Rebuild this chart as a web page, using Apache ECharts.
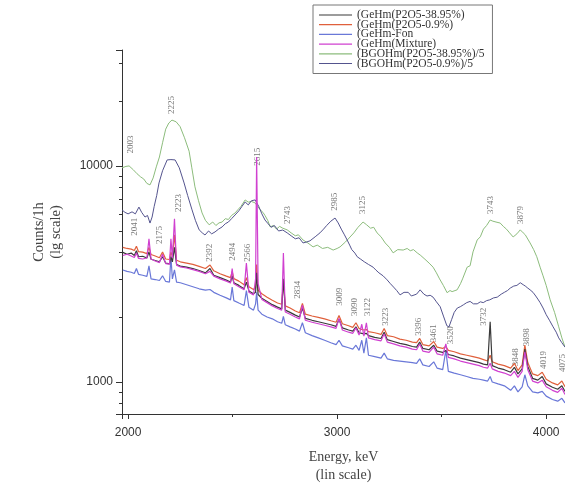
<!DOCTYPE html>
<html>
<head>
<meta charset="utf-8">
<script src="https://cdn.jsdelivr.net/npm/echarts@6/dist/echarts.min.js"></script>
<style>
  html, body { margin: 0; padding: 0; background: #fff; }
  #chart { width: 565px; height: 495px; }
</style>
</head>
<body>
<div id="chart"></div>
<script>
// energy grid shared by the Ge spectra (keV)
const geEnergy = [
  1975, 1995, 2015, 2030, 2040, 2050, 2070, 2090, 2100, 2110,
  2130, 2150, 2165, 2180, 2198, 2205, 2212, 2222, 2232, 2250,
  2280, 2310, 2340, 2370, 2392, 2410, 2440, 2470, 2490, 2498,
  2506, 2530, 2555, 2566, 2578, 2600, 2610, 2615, 2622, 2640,
  2665, 2690, 2715, 2735, 2743, 2752, 2775, 2800, 2820, 2834,
  2848, 2880, 2910, 2940, 2970, 2995, 3009, 3025, 3055, 3075,
  3090, 3105, 3118, 3128, 3140, 3150, 3180, 3210, 3225, 3240,
  3270, 3300, 3330, 3360, 3380, 3395, 3410, 3440, 3462, 3478,
  3505, 3520, 3532, 3560, 3590, 3620, 3650, 3680, 3700, 3720,
  3732, 3742, 3770, 3800, 3830, 3848, 3865, 3885, 3898, 3912,
  3935, 3960, 3981, 4000, 4030, 4055, 4075, 4090
];
const geHm38 = [
  3980, 3900, 3950, 3850, 4050, 3800, 3820, 3750, 4000, 3700,
  3650, 3600, 3800, 3550, 3520, 3800, 3600, 4200, 3500, 3440,
  3400, 3350, 3280, 3200, 3350, 3120, 3040, 2960, 2900, 3100,
  2880, 2800, 2700, 2900, 2640, 2560, 2600, 3200, 2540, 2440,
  2360, 2280, 2220, 2180, 3000, 2150, 2100, 2040, 2000, 2200,
  1970, 1930, 1900, 1870, 1840, 1810, 1950, 1780, 1740, 1720,
  1800, 1690, 1680, 1670, 1680, 1640, 1610, 1590, 1700, 1570,
  1540, 1510, 1490, 1460, 1450, 1530, 1430, 1410, 1480, 1390,
  1370, 1400, 1340, 1320, 1290, 1270, 1250, 1230, 1210, 1200,
  1900, 1190, 1160, 1140, 1110, 1170, 1090, 1150, 1420, 1180,
  1040, 1020, 1060, 980, 945, 925, 960, 905
];
const geHm09 = [
  4200, 4150, 4120, 4060, 4250, 4010, 3990, 3930, 4200, 3890,
  3830, 3760, 4000, 3710, 3690, 4000, 3800, 4800, 3660, 3600,
  3550, 3500, 3430, 3350, 3480, 3270, 3170, 3090, 3040, 3250,
  3010, 2930, 2820, 3040, 2760, 2680, 2730, 3500, 2660, 2560,
  2470, 2390, 2320, 2290, 2980, 2250, 2200, 2130, 2090, 2310,
  2060, 2020, 1990, 1960, 1920, 1890, 2030, 1860, 1820, 1790,
  1880, 1770, 1750, 1740, 1750, 1710, 1690, 1660, 1770, 1640,
  1620, 1580, 1560, 1530, 1520, 1590, 1490, 1470, 1540, 1450,
  1430, 1460, 1400, 1380, 1350, 1330, 1310, 1290, 1270, 1250,
  1330, 1240, 1210, 1190, 1160, 1220, 1130, 1200, 1480, 1230,
  1090, 1070, 1110, 1030, 990, 970, 1010, 950
];
const geFon = [
  3300, 3250, 3220, 3180, 3350, 3150, 3120, 3080, 3450, 3000,
  2980, 2950, 3100, 2920, 2900, 3800, 3000, 3300, 2900, 2880,
  2820, 2760, 2700, 2660, 2680, 2600, 2520, 2450, 2400, 2750,
  2380, 2320, 2260, 2650, 2220, 2150, 2300, 2600, 2150, 2060,
  2000, 1960, 1900, 1870, 2010, 1840, 1800, 1760, 1720, 1880,
  1690, 1640, 1600, 1560, 1520, 1490, 1560, 1470, 1440, 1420,
  1480, 1400, 1560, 1360, 1600, 1330, 1310, 1290, 1360, 1280,
  1260, 1250, 1240, 1230, 1220, 1280, 1200, 1180, 1240, 1160,
  1140, 1400, 1120, 1100, 1080, 1060, 1040, 1030, 1020, 1010,
  1060, 1000, 980, 960, 915, 960, 900, 950, 1080, 960,
  900, 890, 905, 860, 830, 815, 840, 800
];
const geMix = [
  3850, 3900, 3830, 3770, 3950, 3730, 3710, 3750, 4600, 3710,
  3630, 3570, 3900, 3530, 3510, 4600, 3750, 5700, 3470, 3410,
  3370, 3310, 3250, 3170, 3250, 3090, 3000, 2930, 2870, 3350,
  2850, 2760, 2670, 3550, 2600, 2530, 3000, 11000, 2850, 2410,
  2330, 2250, 2190, 2150, 3950, 2110, 2060, 2000, 1960, 2270,
  1930, 1890, 1860, 1830, 1800, 1770, 1970, 1740, 1700, 1680,
  1780, 1650, 1850, 1630, 1880, 1600, 1570, 1550, 1670, 1530,
  1500, 1470, 1450, 1420, 1410, 1500, 1390, 1370, 1450, 1350,
  1330, 1500, 1300, 1280, 1250, 1230, 1210, 1190, 1170, 1160,
  1220, 1150, 1120, 1100, 1070, 1120, 1050, 1120, 1380, 1140,
  1010, 990, 1020, 950, 915, 895, 935, 875
];
// BGO spectra divided by 5: [keV, counts]
const bgo38 = [
  [1971, 9800], [1990, 9950], [2005, 10000], [2025, 9600], [2043, 9200], [2060, 8900], [2075, 8700], [2090, 8300],
  [2105, 8170], [2120, 8800], [2135, 9900], [2150, 11000], [2165, 12800], [2180, 14800], [2195, 15800], [2210, 16300],
  [2230, 16000], [2249, 15200], [2270, 13500], [2292, 11700], [2305, 9800], [2320, 8000], [2337, 6900], [2354, 6060],
  [2370, 5600], [2388, 5340], [2405, 5500], [2420, 5300], [2435, 5450], [2450, 5500], [2465, 5700], [2480, 5650],
  [2495, 5900], [2512, 6060], [2527, 6300], [2540, 6500], [2560, 6960], [2575, 6800], [2590, 6850], [2608, 6740],
  [2630, 6300], [2645, 6100], [2655, 5900], [2668, 5600], [2680, 5220], [2695, 5300], [2710, 5100], [2725, 5250],
  [2740, 5150], [2761, 5060], [2780, 4900], [2800, 4750], [2815, 4800], [2837, 4540], [2860, 4400], [2885, 4220],
  [2905, 4300], [2930, 4150], [2955, 4200], [2981, 4080], [3000, 4150], [3014, 4220], [3040, 4450], [3062, 4690],
  [3080, 4900], [3100, 5200], [3124, 5500], [3140, 5350], [3160, 5150], [3175, 5200], [3191, 4900], [3210, 4700],
  [3230, 4400], [3250, 4200], [3268, 3960], [3290, 4100], [3316, 4080], [3335, 4150], [3350, 4050], [3365, 4100],
  [3383, 3960], [3400, 3850], [3420, 3700], [3440, 3550], [3459, 3400], [3475, 3200], [3490, 3000], [3508, 2800],
  [3526, 2590], [3540, 2650], [3550, 2620], [3574, 2670], [3590, 2850], [3600, 3000], [3622, 3400], [3636, 3450],
  [3650, 4000], [3670, 4540], [3685, 4700], [3700, 5100], [3715, 5300], [3732, 5620], [3745, 5550], [3760, 5500],
  [3780, 5440], [3795, 5250], [3810, 5100], [3825, 4900], [3842, 4690], [3860, 4850], [3876, 5060], [3890, 4900],
  [3900, 4800], [3923, 4400], [3940, 4100], [3955, 3800], [3971, 3400], [3985, 3100], [4000, 2800], [4019, 2400],
  [4040, 2100], [4060, 1800], [4075, 1600], [4090, 1450]
];
const bgo09 = [
  [1971, 6260], [1985, 6100], [2000, 6000], [2019, 6130], [2035, 6000], [2052, 6450], [2065, 6100], [2081, 5800],
  [2093, 5900], [2105, 5440], [2115, 5800], [2125, 6500], [2137, 7300], [2148, 8340], [2165, 9500], [2187, 10660],
  [2205, 10700], [2225, 10660], [2245, 9800], [2268, 8340], [2285, 7300], [2306, 6260], [2322, 5600], [2340, 5060],
  [2355, 4900], [2368, 4790], [2385, 5000], [2400, 4850], [2416, 4950], [2433, 5100], [2450, 5220], [2465, 5400],
  [2480, 5500], [2495, 5700], [2512, 5930], [2530, 6200], [2545, 6500], [2560, 6810], [2575, 6600], [2590, 6900],
  [2608, 6960], [2625, 6500], [2640, 6000], [2655, 5620], [2670, 5400], [2685, 5200], [2700, 5300], [2720, 5000],
  [2740, 5050], [2761, 4900], [2780, 4750], [2800, 4600], [2818, 4650], [2837, 4400], [2855, 4450], [2870, 4500],
  [2895, 4700], [2918, 4900], [2935, 5100], [2950, 5300], [2970, 5550], [2990, 5740], [3005, 5450], [3020, 5100],
  [3035, 4800], [3048, 4540], [3060, 4300], [3070, 4100], [3085, 3950], [3096, 3800], [3113, 3700], [3130, 3600],
  [3150, 3500], [3172, 3400], [3185, 3300], [3200, 3200], [3220, 3100], [3239, 2970], [3255, 2850], [3270, 2750],
  [3285, 2650], [3301, 2530], [3320, 2600], [3340, 2600], [3355, 2500], [3364, 2470], [3380, 2550], [3397, 2670],
  [3415, 2550], [3430, 2500], [3445, 2520], [3459, 2470], [3475, 2350], [3493, 2230], [3510, 2000], [3525, 1820],
  [3535, 1800], [3548, 1950], [3560, 2100], [3575, 2200], [3589, 2230], [3605, 2280], [3620, 2330], [3636, 2360],
  [3652, 2300], [3670, 2300], [3685, 2350], [3699, 2330], [3715, 2380], [3730, 2400], [3748, 2450], [3766, 2470],
  [3785, 2550], [3800, 2600], [3815, 2650], [3828, 2720], [3845, 2780], [3860, 2800], [3876, 2880], [3890, 2820],
  [3900, 2780], [3912, 2720], [3923, 2670], [3937, 2600], [3950, 2500], [3960, 2420], [3971, 2330], [3985, 2200],
  [4000, 2050], [4017, 1920], [4033, 1800], [4048, 1700], [4060, 1600], [4075, 1520], [4090, 1450]
];
// peak annotations: [text, keV, counts at label foot]
const peakLabels = [
  ['2003', 2010, 11300], ['2225', 2210, 17200], ['2041', 2033, 4700], ['2175', 2153, 4310],
  ['2223', 2240, 6060], ['2392', 2392, 3560], ['2494', 2498, 3600], ['2566', 2570, 3560],
  ['2615', 2622, 9900], ['2743', 2761, 5330], ['2834', 2809, 2400], ['2985', 2986, 6130],
  ['3009', 3010, 2230], ['3090', 3086, 2000], ['3125', 3124, 5930], ['3122', 3144, 2000],
  ['3223', 3230, 1800], ['3396', 3392, 1620], ['3461', 3464, 1510], ['3520', 3541, 1480],
  ['3732', 3703, 1800], ['3743', 3732, 5930], ['3848', 3852, 1170], ['3879', 3876, 5330],
  ['3898', 3905, 1450], ['4019', 3986, 1137], ['4075', 4077, 1100]
];
const legendNames = [
  '(GeHm(P2O5-38.95%)', '(GeHm(P2O5-0.9%)', '(GeHm-Fon', '(GeHm(Mixture)',
  '(BGOHm(P2O5-38.95%)/5', '(BGOHm(P2O5-0.9%)/5'
];
const colors = ['#3a3a3a', '#e0603c', '#6a78d8', '#d040d0', '#8cbc7c', '#54548e'];

const chart = echarts.init(document.getElementById('chart'));

function geLine(name, counts, color) {
  return {
    name: name,
    type: 'line',
    symbol: 'none',
    lineStyle: { width: 1.2, color: color },
    itemStyle: { color: color },
    data: geEnergy.map((e, i) => [e, counts[i]])
  };
}
function bgoLine(name, pairs, color) {
  return {
    name: name,
    type: 'line',
    symbol: 'none',
    lineStyle: { width: 1, color: color },
    itemStyle: { color: color },
    data: pairs
  };
}

const option = {
  animation: false,
  backgroundColor: '#fff',
  grid: { left: 122, right: 0, top: 50, bottom: 81 },
  legend: {
    data: legendNames,
    orient: 'vertical',
    left: 313,
    top: 5,
    icon: 'rect',
    itemWidth: 33,
    itemHeight: 1.2,
    itemGap: -2.3,
    padding: [4, 8, 4, 6],
    borderColor: '#777',
    borderWidth: 1,
    backgroundColor: '#fff',
    textStyle: { fontFamily: 'Liberation Serif', fontSize: 11.5, color: '#333', lineHeight: 9.6 }
  },
  xAxis: {
    type: 'value',
    min: 1971,
    max: 4090,
    splitNumber: 2,
    name: 'Energy, keV\n(lin scale)',
    nameLocation: 'middle',
    nameGap: 34,
    nameTextStyle: { fontFamily: 'Liberation Serif', fontSize: 14, color: '#444', lineHeight: 18 },
    axisLine: { lineStyle: { color: '#333' } },
    axisTick: { length: 5, lineStyle: { color: '#333' } },
    minorTick: { show: true, splitNumber: 2, length: 3, lineStyle: { color: '#333' } },
    axisLabel: {
      showMinLabel: false, showMaxLabel: false, margin: 13,
      fontFamily: 'Liberation Sans', fontSize: 12, color: '#333',
      formatter: function (v) { return String(v); }
    },
    splitLine: { show: false }
  },
  yAxis: {
    type: 'log',
    min: 711,
    max: 34400,
    name: 'Counts/1h\n(lg scale)',
    nameLocation: 'middle',
    nameRotate: 90,
    nameGap: 57,
    nameTextStyle: { fontFamily: 'Liberation Serif', fontSize: 14.5, color: '#444', lineHeight: 17 },
    axisLine: { show: true, lineStyle: { color: '#333' } },
    axisTick: { length: 6, lineStyle: { color: '#333' } },
    minorTick: { show: true, splitNumber: 9, length: 3, lineStyle: { color: '#333' } },
    axisLabel: {
      margin: 9, fontFamily: 'Liberation Sans', fontSize: 12, color: '#333',
      formatter: function (v) {
        const l = Math.log10(v);
        return Math.abs(l - Math.round(l)) < 1e-6 ? String(Math.round(v)) : '';
      }
    },
    splitLine: { show: false }
  },
  series: [
    bgoLine(legendNames[4], bgo38, colors[4]),
    bgoLine(legendNames[5], bgo09, colors[5]),
    geLine(legendNames[2], geFon, colors[2]),
    geLine(legendNames[1], geHm09, colors[1]),
    geLine(legendNames[0], geHm38, colors[0]),
    geLine(legendNames[3], geMix, colors[3]),
    {
      type: 'scatter',
      symbolSize: 0,
      silent: true,
      data: peakLabels.map(p => ({ name: p[0], value: [p[1], p[2]] })),
      label: {
        show: true,
        formatter: '{b}',
        position: 'top',
        distance: 1,
        rotate: 90,
        align: 'left',
        verticalAlign: 'middle',
        fontFamily: 'Liberation Serif',
        fontSize: 9,
        color: '#555'
      }
    }
  ]
};
chart.setOption(option);
</script>
</body>
</html>
